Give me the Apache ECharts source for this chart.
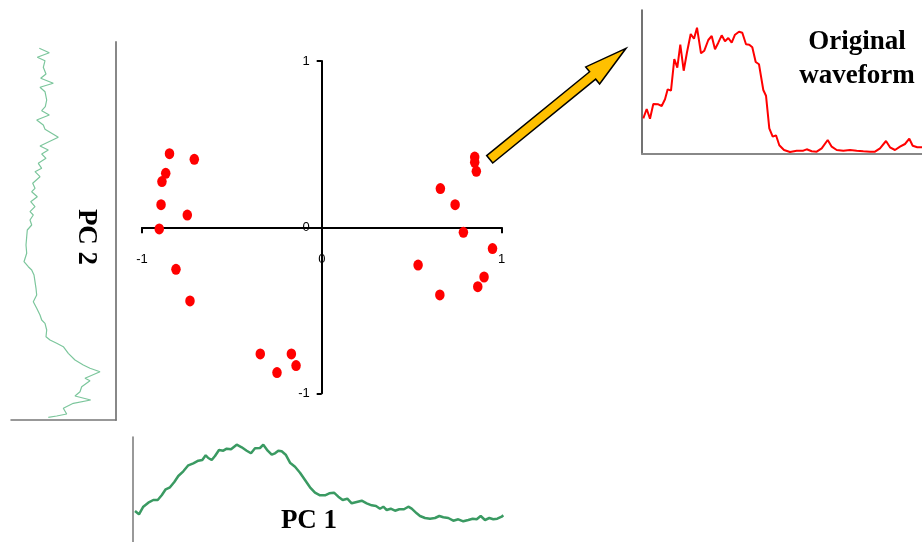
<!DOCTYPE html>
<html><head><meta charset="utf-8">
<script src="https://cdn.jsdelivr.net/npm/echarts@6/dist/echarts.min.js"></script>
<style>html,body{margin:0;padding:0;background:#fff}#c{width:922px;height:542px}</style>
</head><body><div id="c"></div>
<script>
// PCA scores of each spike (PC1, PC2)
const pc1Scores = [-0.847,-0.709,-0.868,-0.889,-0.894,-0.748,-0.904,-0.811,-0.733,-0.342,-0.169,-0.143,-0.249,0.851,0.851,0.860,0.660,0.742,0.788,0.950,0.536,0.903,0.868,0.657];
const pc2Scores = [0.442,0.408,0.324,0.274,0.135,0.073,-0.011,-0.254,-0.444,-0.763,-0.763,-0.833,-0.875,0.422,0.390,0.336,0.232,0.135,-0.031,-0.129,-0.228,-0.300,-0.358,-0.408];
const scoreTicks = [-1, 0, 1];

// Original waveform (time, amplitude)
const origTime = [1.3,4.7,8,11.3,16.3,19.7,23,25.7,29,32.3,35.3,38.3,41.7,45,48.7,52,55,59,62.3,66.3,69.7,73,76.3,79.7,83,86.3,89.7,93,97,100.3,104,107.3,110.3,113.7,117,121.3,124,127.3,130.7,134,137.3,142,148,154.7,161.3,164.7,169.7,174.7,179.7,185.7,189.7,194.7,201.3,208,214.7,221.3,228,233,238,244,248,253,258,263,267.3,270.7,275.3,280];
const origAmp = [35.7,45,35.3,50,49.7,48,54.7,64.7,63.3,95,86.3,109.3,83.3,101.7,120,115.3,126.3,100.7,103.3,114,118,104.7,111.3,118.7,112.7,116,111.3,119.3,122.3,121.3,109.7,109.3,106.7,92,89.7,64,58.3,25.7,17.3,18.7,8.7,4,2,3.3,3.3,4.7,2.7,2.3,5.7,14,7.3,4,3.3,4,3.3,2.7,2.3,2.3,5.7,13,6.7,4,7.3,10,15.3,8.3,6.7,6.7];

// PC1 waveform (time, amplitude)
const pc1Time = [2,6,10.3,15.3,20.3,24.7,28.7,32.7,37,41.3,45.3,50.3,55.3,60.3,65.3,69.3,72.7,75.3,78.7,82,86,90.3,93.7,98,103.7,108.7,113.7,118,122,127,130.3,134.7,138.7,142,145.3,148.7,152.7,157,162,167,172,177,182,187,192,196.3,201,205.3,209.7,214.3,218.7,223.7,228.7,233.7,238.7,243,247,250.3,253.7,257.7,262,266.3,271,275.3,278.7,283.7,287,292,297,302,306.3,310.3,315.3,320.3,325.3,330.3,335.3,339.7,343.7,347.7,352,356.3,360.3,364.3,368.7,370.3];
const pc1Amp = [31,27.7,35.3,39.3,42,42,46.7,52.7,54.7,60,66,70.7,76.7,78.7,81.3,82,86.7,84,82,86,92,91.3,93.3,92.7,97.3,94.7,91.3,88.7,93.7,94,97.3,91.3,87.3,88.7,91.3,90.7,87.3,79.3,75.3,69.3,62,54.7,49.3,46.7,46.7,48.7,49.3,45.3,42,43.3,38.7,40,41.3,38.7,36.7,36,33.3,35.3,32,33.3,31.3,32.7,32.7,35.3,33.3,28.7,26,24,23.3,24,26,24.7,24,21.3,22.7,20.7,22,23.3,22.7,26,22,24,22.7,23.3,25.3,26.7];

// PC2 waveform (time, amplitude) – drawn rotated
const pc2Time = [371.7,367.3,362.7,359.3,352.7,346,341.7,336.7,332.7,328.3,320,313.3,309.3,305,300,295,290.7,282.7,274,270,266,261.7,256.7,251.7,248.3,243.3,236.7,231.7,228.3,223.3,218.3,213.3,208.3,205,200,195,190,183.3,175,166.7,158.3,153.3,150,145,138.3,131.7,125,118.3,111.7,105,100,96.7,90,83.3,80,76.7,73.3,66.7,60,55,51.7,48.3,41.7,39.3,33.3,28.3,24,20,16.7,11.7,6,4,2.7];
const pc2Amp = [28.3,38.3,26.3,34,32.3,35,29.7,42.3,29,34,35.7,34.3,30.7,38.3,25.7,32.3,34,47.3,29,37.3,30.7,35,27.3,30.7,24,29,21.7,24,20.7,26.3,19.7,24,19,22.3,19,20.7,16.3,15.7,15,15.7,13,17.3,20.7,23,24,25,25.7,22.3,25.7,29,30.7,34,35.7,35,39,45.7,52.3,57.3,64,72.3,79,89,74,79,70.7,69,64,79.7,62.3,52.3,55.7,45.7,37.3];

function pairs(a, b) { return a.map((v, i) => [v, b[i]]); }

// arrow geometry (annotation)
const tail = [489.7, 159.3], tip = [626, 48.3];
const dx = tip[0] - tail[0], dy = tip[1] - tail[1];
const L = Math.hypot(dx, dy), ux = dx / L, uy = dy / L, px = -uy, py = ux;
const sw = 4.8, hw = 11, hl = 43;
const local = [[0,-sw],[L-hl,-sw],[L-hl,-hw],[L,0],[L-hl,hw],[L-hl,sw],[0,sw]];
const arrowPts = local.map(([u, v]) => [tail[0] + u*ux + v*px, tail[1] + u*uy + v*py]);

const chart = echarts.init(document.getElementById('c'));
chart.setOption({
  animation: false,
  backgroundColor: '#fff',
  grid: [
    {left: 142, right: 420.5, top: 61, bottom: 148.7},
    {left: 11, right: 806, top: 42, bottom: 122},
    {left: 133, right: 409, top: 437, bottom: 0},
    {left: 642, right: 0, top: 10, bottom: 388}
  ],
  xAxis: [
    {gridIndex: 0, type: 'value', min: -1, max: 1, position: 'bottom', offset: -166,
     axisLine: {onZero: false, lineStyle: {color: '#000', width: 2}},
     axisTick: {customValues: [-1, 1], length: 6, lineStyle: {color: '#000', width: 2}},
     axisLabel: {customValues: scoreTicks, margin: 26, color: '#000', fontSize: 13, fontFamily: 'Liberation Sans'},
     splitLine: {show: false}},
    {gridIndex: 1, type: 'value', min: 0, max: 105,
     axisLine: {show: true, onZero: false, lineStyle: {color: '#777', width: 1.5}},
     axisTick: {show: false}, axisLabel: {show: false}, splitLine: {show: false}},
    {gridIndex: 2, type: 'value', min: 0, max: 380,
     axisLine: {show: false}, axisTick: {show: false}, axisLabel: {show: false}, splitLine: {show: false}},
    {gridIndex: 3, type: 'value', min: 0, max: 280,
     axisLine: {show: true, onZero: false, lineStyle: {color: '#888', width: 2}},
     axisTick: {show: false}, axisLabel: {show: false}, splitLine: {show: false}}
  ],
  yAxis: [
    {gridIndex: 0, type: 'value', min: -1, max: 1, position: 'left', offset: -179.7,
     axisLine: {onZero: false, lineStyle: {color: '#000', width: 2}},
     axisTick: {customValues: [-1, 1], length: 5, lineStyle: {color: '#000', width: 2}},
     axisLabel: {customValues: scoreTicks, margin: 12, color: '#000', fontSize: 13, fontFamily: 'Liberation Sans'},
     splitLine: {show: false}},
    {gridIndex: 1, type: 'value', min: 0, max: 378, position: 'right',
     axisLine: {show: true, onZero: false, lineStyle: {color: '#888', width: 2}},
     axisTick: {show: false}, axisLabel: {show: false}, splitLine: {show: false}},
    {gridIndex: 2, type: 'value', min: 0, max: 105,
     axisLine: {show: true, onZero: false, lineStyle: {color: '#777', width: 1.5}},
     axisTick: {show: false}, axisLabel: {show: false}, splitLine: {show: false}},
    {gridIndex: 3, type: 'value', min: 0, max: 144,
     axisLine: {show: true, onZero: false, lineStyle: {color: '#444', width: 1.5}},
     axisTick: {show: false}, axisLabel: {show: false}, splitLine: {show: false}}
  ],
  series: [
    {type: 'scatter', xAxisIndex: 0, yAxisIndex: 0, data: pairs(pc1Scores, pc2Scores),
     symbol: 'circle', symbolSize: [9.5, 11], itemStyle: {color: '#ff0000', opacity: 1}, z: 5},
    {type: 'line', xAxisIndex: 1, yAxisIndex: 1, data: pairs(pc2Amp, pc2Time),
     symbol: 'none', lineStyle: {color: '#7cc69c', width: 1.2}},
    {type: 'line', xAxisIndex: 2, yAxisIndex: 2, data: pairs(pc1Time, pc1Amp),
     symbol: 'none', lineStyle: {color: '#3a9a62', width: 2.5}},
    {type: 'line', xAxisIndex: 3, yAxisIndex: 3, data: pairs(origTime, origAmp),
     symbol: 'none', lineStyle: {color: '#ff0000', width: 2}}
  ],
  graphic: [
    {type: 'polygon', shape: {points: arrowPts}, z: 100,
     style: {fill: '#ffc000', stroke: '#000', lineWidth: 1.5}},
    {type: 'text', x: 86, y: 237, rotation: -Math.PI/2, z: 100,
     style: {text: 'PC 2', font: 'bold 27px "Liberation Serif"', fill: '#000', textAlign: 'center', textVerticalAlign: 'middle'}},
    {type: 'text', x: 309, y: 521, z: 100,
     style: {text: 'PC 1', font: 'bold 27px "Liberation Serif"', fill: '#000', textAlign: 'center', textVerticalAlign: 'middle'}},
    {type: 'text', x: 857, y: 42, z: 100,
     style: {text: 'Original', font: 'bold 27px "Liberation Serif"', fill: '#000', textAlign: 'center', textVerticalAlign: 'middle'}},
    {type: 'text', x: 857, y: 76, z: 100,
     style: {text: 'waveform', font: 'bold 27px "Liberation Serif"', fill: '#000', textAlign: 'center', textVerticalAlign: 'middle'}}
  ]
});
</script>
</body></html>
